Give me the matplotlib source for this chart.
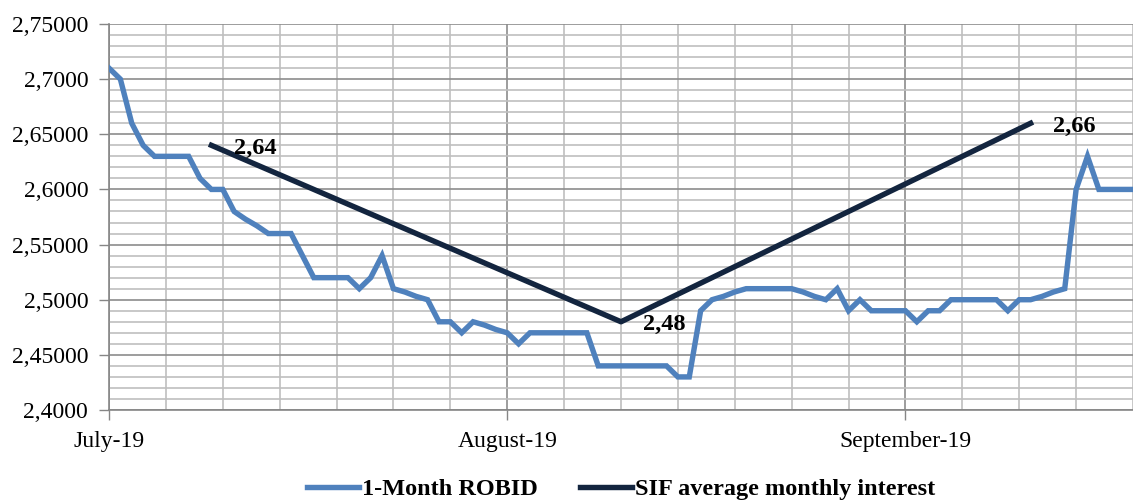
import matplotlib
matplotlib.use("Agg")
import matplotlib.pyplot as plt
from matplotlib.ticker import MultipleLocator, FixedLocator

# ---- data ----
robid = [2.71, 2.70, 2.66, 2.64, 2.63, 2.63, 2.63, 2.63, 2.61, 2.60,
         2.60, 2.58, 2.573, 2.567, 2.56, 2.56, 2.56, 2.54, 2.52, 2.52,
         2.52, 2.52, 2.51, 2.52, 2.54, 2.51, 2.507, 2.503, 2.50, 2.48,
         2.48, 2.47, 2.48, 2.477, 2.473, 2.47, 2.46, 2.47, 2.47, 2.47,
         2.47, 2.47, 2.47, 2.44, 2.44, 2.44, 2.44, 2.44, 2.44, 2.44,
         2.43, 2.43, 2.49, 2.50, 2.503, 2.507, 2.51, 2.51, 2.51, 2.51,
         2.51, 2.507, 2.503, 2.50, 2.51, 2.49, 2.50, 2.49, 2.49, 2.49,
         2.49, 2.48, 2.49, 2.49, 2.50, 2.50, 2.50, 2.50, 2.50, 2.49,
         2.50, 2.50, 2.503, 2.507, 2.51, 2.60, 2.63, 2.60, 2.60, 2.60,
         2.60]
sif_pos = [9, 45, 81]
sif_vals = [2.64, 2.48, 2.66]
sif_labels = ["2,64", "2,48", "2,66"]
month_pos = [0, 35, 70]
month_labels = ["July-19", "August-19", "September-19"]
y_ticks = [2.40, 2.45, 2.50, 2.55, 2.60, 2.65, 2.70, 2.75]
y_labels = ["2,4000", "2,45000", "2,5000", "2,55000", "2,6000", "2,65000", "2,7000", "2,75000"]
series_names = ["1-Month ROBID", "SIF average monthly interest"]

W, H = 1133, 501
fig = plt.figure(figsize=(W / 100, H / 100), dpi=100)
L, R, T, B = 109, 1133, 24, 410
ax = fig.add_axes([L / W, (H - B) / H, (R - L) / W, (B - T) / H])

serif = "Liberation Serif"
blue = "#4F81BD"
navy = "#13253F"

x = list(range(len(robid)))
ax.plot(x, robid, color=blue, lw=3.9, solid_joinstyle="miter", label=series_names[0], zorder=3)
ax.plot(sif_pos, sif_vals, color=navy, lw=3.9, label=series_names[1], zorder=4)

for px, py, lab in zip(sif_pos, sif_vals, sif_labels):
    ax.annotate(lab, (px, py), xytext=(16, -2), textcoords="offset points",
                ha="left", va="center", fontsize=17.5, fontweight="bold",
                family=serif, color="black", zorder=5)

ax.set_xlim(0, 90)
ax.set_ylim(2.40, 2.75)

ax.xaxis.set_major_locator(FixedLocator(month_pos))
ax.set_xticklabels(month_labels, family=serif, fontsize=17)
ax.xaxis.set_minor_locator(MultipleLocator(5))
ax.set_yticks(y_ticks)
ax.set_yticklabels(y_labels, family=serif, fontsize=17)
ax.yaxis.set_minor_locator(MultipleLocator(0.01))

ax.tick_params(axis="both", which="major", direction="out", length=7, width=1,
               color="#868686", pad=8)
ax.tick_params(axis="both", which="minor", length=0)

ax.set_axisbelow(True)
ax.grid(which="minor", color="#BFBFBF", lw=1.2)
ax.grid(which="major", color="#8C8C8C", lw=1.2)

for s in ["top", "right"]:
    ax.spines[s].set_visible(False)
for s in ["left", "bottom"]:
    ax.spines[s].set_color("#868686")
    ax.spines[s].set_linewidth(1.2)

leg = ax.legend(loc="center", bbox_to_anchor=(0.5, -0.205), ncol=2, frameon=False,
                prop={"family": serif, "weight": "bold", "size": 17.5},
                handlelength=2.15, handletextpad=0.1, columnspacing=1.75)

fig.savefig("out.png", dpi=100)
